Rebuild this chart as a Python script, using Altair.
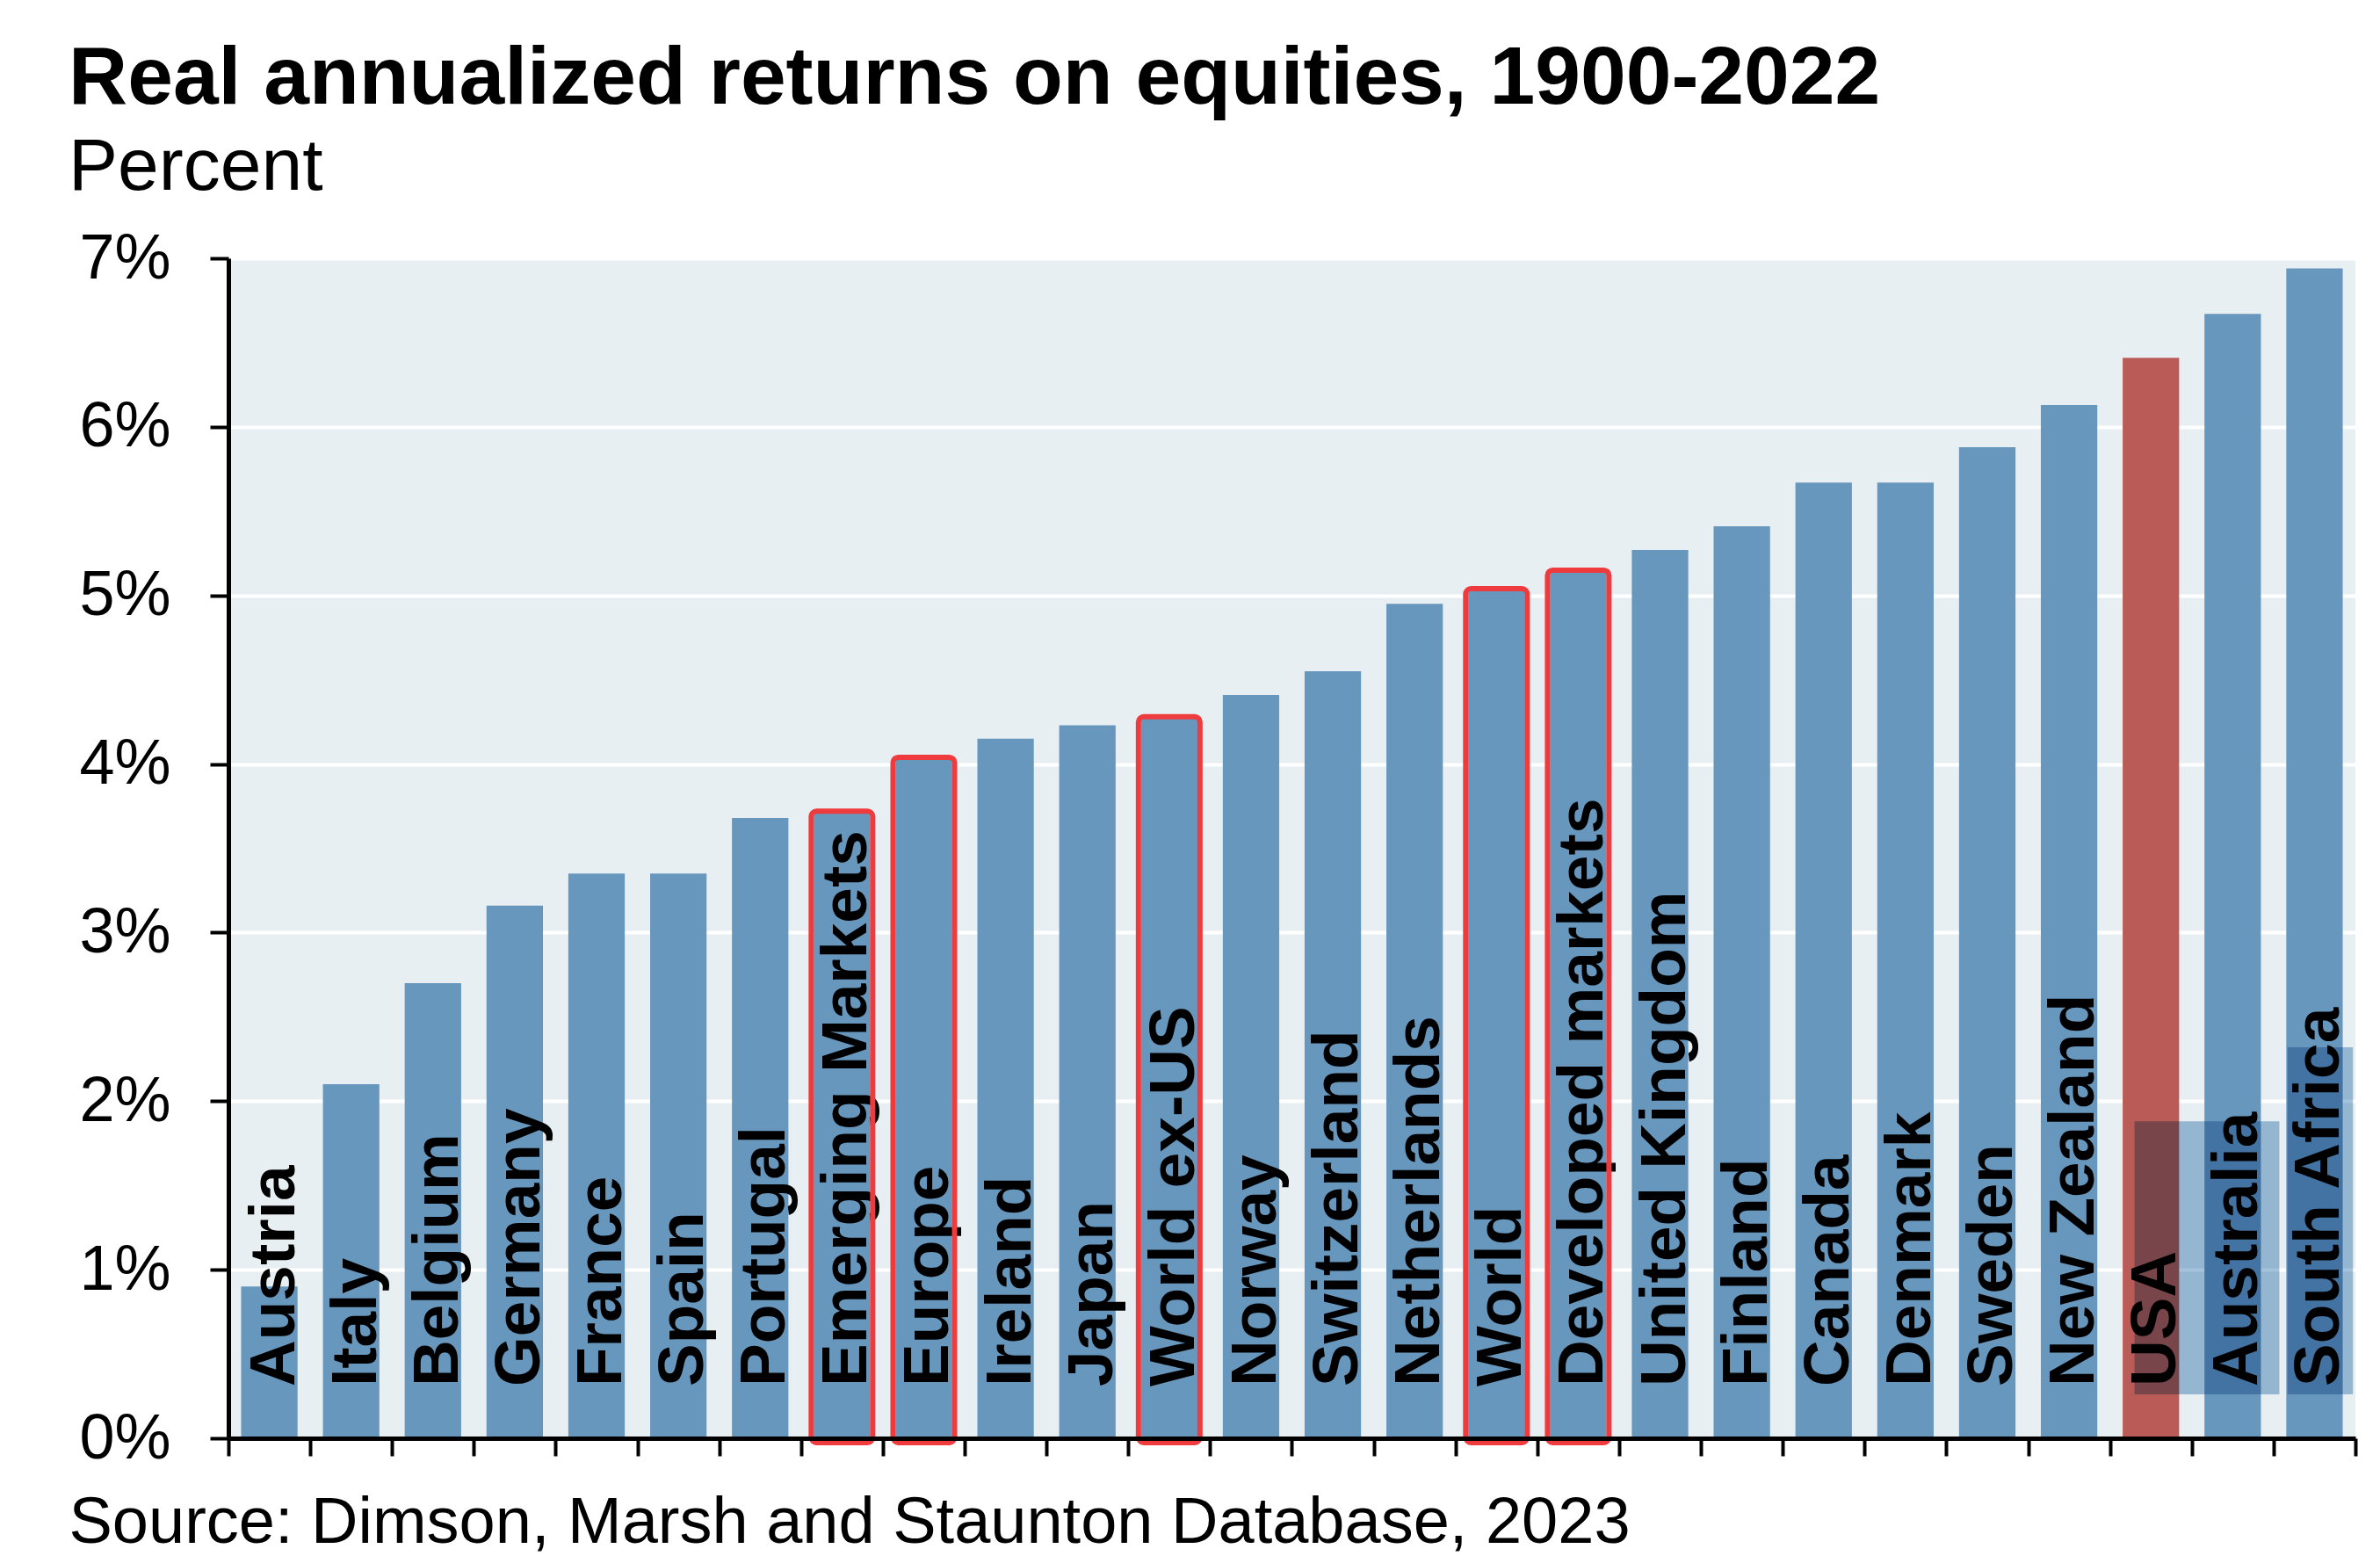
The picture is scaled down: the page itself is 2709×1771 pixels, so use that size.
import altair as alt
import pandas as pd

countries = ["Austria", "Italy", "Belgium", "Germany", "France", "Spain", "Portugal",
             "Emerging Markets", "Europe", "Ireland", "Japan", "World ex-US", "Norway",
             "Switzerland", "Netherlands", "World", "Developed markets", "United Kingdom",
             "Finland", "Canada", "Denmark", "Sweden", "New Zealand", "USA", "Australia",
             "South Africa"]
returns = [0.90, 2.10, 2.70, 3.16, 3.35, 3.35, 3.68, 3.72, 4.04, 4.15, 4.23, 4.28, 4.41,
           4.55, 4.95, 5.04, 5.15, 5.27, 5.41, 5.67, 5.67, 5.88, 6.13, 6.41, 6.67, 6.94]
highlighted = ["Emerging Markets", "Europe", "World ex-US", "World", "Developed markets"]
emphasis = ["USA"]

# translucent label-highlight patches (in band-index units / percent)
overlay_x = [23.30, 25.17]
overlay_x2 = [25.07, 25.97]
overlay_y = [0.26, 0.26]
overlay_y2 = [1.88, 2.32]

y_ticks = [0, 1, 2, 3, 4, 5, 6, 7]

title_text = "Real annualized returns on equities, 1900-2022"
subtitle_text = "Percent"
source_text = "Source: Dimson, Marsh and Staunton Database, 2023"

FONT = "Liberation Sans"

df = pd.DataFrame({
    "country": countries,
    "value": returns,
    "group": ["USA" if c in emphasis else "other" for c in countries],
    "boxed": [c in highlighted for c in countries],
})
ov = pd.DataFrame({"x": overlay_x, "x2": overlay_x2, "y": overlay_y, "y2": overlay_y2})

xscale = alt.Scale(domain=countries, paddingInner=0, paddingOuter=0)
yscale = alt.Scale(domain=[0, 7], nice=False)

x_enc = alt.X(
    "country:N", sort=countries, scale=xscale,
    axis=alt.Axis(
        labels=False, title=source_text, tickBand="extent", ticks=True,
        tickSize=20, tickWidth=4, tickColor="black",
        domainColor="black", domainWidth=5, zindex=1,
        titleFont=FONT, titleFontSize=74, titleFontWeight="normal", titleColor="black",
        titleAnchor="start", titleAlign="left", titleBaseline="alphabetic",
        titleX=-182, titleY=118,
    ),
)
y_enc = alt.Y(
    "value:Q", scale=yscale,
    axis=alt.Axis(
        title=None, values=y_ticks, labelExpr="datum.value + '%'",
        labelFont=FONT, labelFontSize=72, labelColor="black", labelPadding=45,
        tickSize=21, tickWidth=4, tickColor="black",
        domainColor="black", domainWidth=5,
        grid=True, gridColor="white", gridWidth=4, gridOpacity=1,
    ),
)

base = alt.Chart(df)

bars = base.mark_bar(width=alt.RelativeBandSize(0.69)).encode(
    x=x_enc,
    y=y_enc,
    color=alt.Color("group:N", scale=alt.Scale(domain=["other", "USA"],
                                                range=["#6897bd", "#bb5b57"]), legend=None),
)

labels = base.mark_text(
    angle=270, align="left", baseline="alphabetic", dx=59, dy=28,
    font=FONT, fontSize=73, fontWeight="bold", color="black",
).encode(
    x=alt.X("country:N", sort=countries, scale=xscale),
    y=alt.datum(0),
    text="country:N",
)

boxes = base.transform_filter("datum.boxed").mark_bar(
    fill="transparent", stroke="#ee3b3e", strokeWidth=6, cornerRadius=6,
    width=70, y2Offset=5,
).encode(
    x=alt.X("country:N", sort=countries, scale=xscale),
    y=alt.Y("value:Q", scale=yscale),
    y2=alt.datum(0),
)

overlay = alt.Chart(ov).mark_rect(color="#a3c2db", blend="multiply").encode(
    x=alt.X("x:Q", scale=alt.Scale(domain=[0, 26], nice=False, zero=False), axis=None),
    x2="x2:Q",
    y=alt.Y("y:Q", scale=yscale),
    y2="y2:Q",
)

main = alt.layer(bars, labels, boxes)

chart = alt.layer(main, overlay).resolve_scale(x="independent").properties(
    width=2421, height=1343,
    padding={"left": 260, "top": 294, "right": 28, "bottom": 134},
    autosize=alt.AutoSizeParams(type="none"),
    title=alt.TitleParams(
        text=title_text, subtitle=subtitle_text, anchor="start", frame="group",
        dx=-182, offset=24, font=FONT, fontSize=93, fontWeight="bold", color="black",
        subtitleFont=FONT, subtitleFontSize=84, subtitleColor="black",
        subtitlePadding=12,
    ),
    background="white",
).configure_view(fill="#e8eff3", stroke=None, strokeWidth=0)

chart.save("out.html", embed_options={"renderer": "svg", "actions": False})
